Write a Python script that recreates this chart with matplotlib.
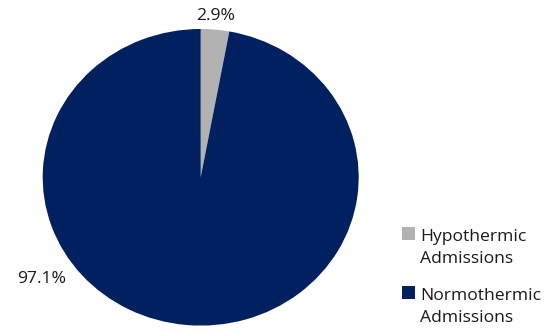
import matplotlib.pyplot as plt
from matplotlib.patches import Rectangle

categories = ["Hypothermic Admissions", "Normothermic Admissions"]
shares = [2.9, 97.1]
colors = ["#b2b2b2", "#002060"]

plt.rcParams['font.family'] = ['Open Sans', 'DejaVu Sans']

W, H = 547, 333
fig = plt.figure(figsize=(W / 100, H / 100), dpi=100)


def fx(x):
    return x / W


def fy(y):
    # y measured from the top edge in pixels
    return 1 - y / H


# the pie is drawn slightly squashed, like the spreadsheet chart
cx, cy, rx, ry = 200.7, 177.3, 158.0, 148.3
ax = fig.add_axes([0, 0, 1, 1])
ax.pie(shares, colors=colors, startangle=90, counterclock=False,
       center=(0, 0), radius=1, frame=True)
ax.set_aspect('auto')
ax.set_xlim(-cx / rx, (W - cx) / rx)
ax.set_ylim(-(H - cy) / ry, cy / ry)
ax.axis('off')

# percentage labels
label_pos = [(216, 16), (42, 279)]
for (x, y), v in zip(label_pos, shares):
    fig.text(fx(x), fy(y), f"{v:.1f}%", ha='center', va='center',
             fontsize=12.6, color='#1a1a1a')

# legend: square swatch plus two-line label per entry
swatch_top = [227, 286]
for top, c, name in zip(swatch_top, colors, categories):
    fig.patches.append(Rectangle((fx(402), fy(top + 13)), 13 / W, 13 / H,
                                 transform=fig.transFigure, facecolor=c,
                                 edgecolor='none'))
    for i, line in enumerate(name.split(" ")):
        fig.text(fx(420), fy(top + 13.7 + i * 22.6), line, ha='left',
                 va='baseline', fontsize=12.6, color='#1a1a1a')

fig.savefig("out.png", dpi=100)
